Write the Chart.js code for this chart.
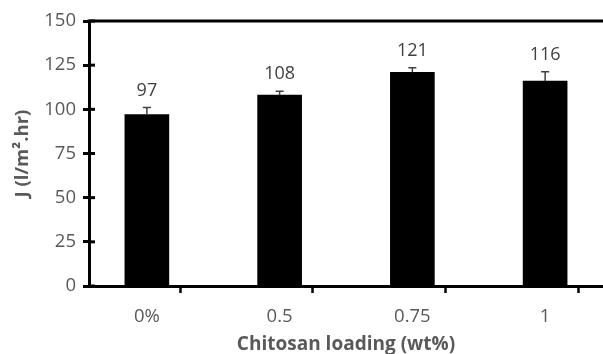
<!DOCTYPE html>
<html>
<head>
<meta charset="utf-8">
<script src="https://cdn.jsdelivr.net/npm/chart.js@4"></script>
<style>
  body { margin: 0; background: #fff; }
  #wrap { width: 603px; height: 354px; }
</style>
</head>
<body>
<div id="wrap"><canvas id="fluxChart"></canvas></div>
<script>
const labels = ['0%', '0.5', '0.75', '1'];
const flux = [97, 108, 121, 116];
const fluxErr = [4, 2.3, 2.5, 5.3];
const yTicks = [0, 25, 50, 75, 100, 125, 150];

const textGray = '#595959';
const fontFamily = '"Open Sans", sans-serif';

// error bars, value labels, top frame line and inner y tick stubs
const extras = {
    id: 'extras',
    afterDatasetsDraw(chart) {
        const ctx = chart.ctx;
        const y = chart.scales.y;
        const area = chart.chartArea;
        ctx.save();
        ctx.strokeStyle = '#000';
        ctx.lineWidth = 3;
        ctx.beginPath();
        ctx.moveTo(area.left - 1.5, area.top);
        ctx.lineTo(area.right, area.top);
        ctx.stroke();
        yTicks.forEach(v => {
            const py = y.getPixelForValue(v);
            ctx.beginPath();
            ctx.moveTo(area.left, py);
            ctx.lineTo(area.left + 6, py);
            ctx.stroke();
        });

        const bars = chart.getDatasetMeta(0).data;
        bars.forEach((bar, i) => {
            const top = y.getPixelForValue(flux[i] + fluxErr[i]);
            ctx.strokeStyle = '#404040';
            ctx.lineWidth = 1.5;
            ctx.beginPath();
            ctx.moveTo(bar.x, bar.y);
            ctx.lineTo(bar.x, top);
            ctx.moveTo(bar.x - 4, top);
            ctx.lineTo(bar.x + 4, top);
            ctx.stroke();

            ctx.fillStyle = '#404040';
            ctx.font = '18px ' + fontFamily;
            ctx.textAlign = 'center';
            ctx.textBaseline = 'middle';
            ctx.fillText(String(flux[i]), bar.x, top - 17);
        });
        ctx.restore();
    }
};

const isLabelTick = (v) => Math.abs(v - Math.round(v)) < 1e-6;

const config = {
    type: 'bar',
    data: {
        datasets: [{
            data: flux.map((v, i) => ({x: i, y: v})),
            backgroundColor: '#000',
            borderWidth: 0,
            barThickness: 44
        }]
    },
    options: {
        responsive: true,
        maintainAspectRatio: false,
        animation: false,
        layout: { padding: { top: 21 } },
        plugins: {
            legend: { display: false },
            tooltip: { enabled: false }
        },
        scales: {
            x: {
                type: 'linear',
                offset: false,
                min: -0.436,
                max: 3.436,
                afterBuildTicks: (scale) => {
                    scale.ticks = [-0.436, 0, 0.5, 1, 1.5, 2, 2.5, 3].map(v => ({value: v}));
                },
                afterFit: (scale) => { scale.height = 68; },
                border: { color: '#000', width: 3 },
                grid: {
                    drawOnChartArea: false,
                    tickLength: 7,
                    tickWidth: 2.5,
                    tickColor: (c) => (c.tick && isLabelTick(c.tick.value)) ? 'rgba(0,0,0,0)' : '#000'
                },
                ticks: {
                    autoSkip: false,
                    maxRotation: 0,
                    padding: 13,
                    color: textGray,
                    font: { family: fontFamily, size: 18.5 },
                    callback: (v) => isLabelTick(v) ? (labels[Math.round(v)] || '') : ''
                },
                title: {
                    display: true,
                    text: 'Chitosan loading (wt%)',
                    color: textGray,
                    padding: { top: 0, bottom: -2 },
                    font: { family: fontFamily, size: 19, weight: 'bold' }
                }
            },
            y: {
                min: 0,
                max: 150,
                afterFit: (scale) => { scale.width = 89; },
                border: { color: '#000', width: 3 },
                grid: {
                    drawOnChartArea: false,
                    tickLength: 6,
                    tickWidth: 3,
                    tickColor: '#000'
                },
                ticks: {
                    stepSize: 25,
                    padding: 7,
                    color: textGray,
                    font: { family: fontFamily, size: 18.5 }
                },
                title: {
                    display: true,
                    text: 'J (l/m².hr)',
                    color: textGray,
                    padding: { top: 12, bottom: 0 },
                    font: { family: fontFamily, size: 18.5, weight: 'bold' }
                }
            }
        }
    },
    plugins: [extras]
};

const chart = new Chart('fluxChart', config);
</script>
</body>
</html>
